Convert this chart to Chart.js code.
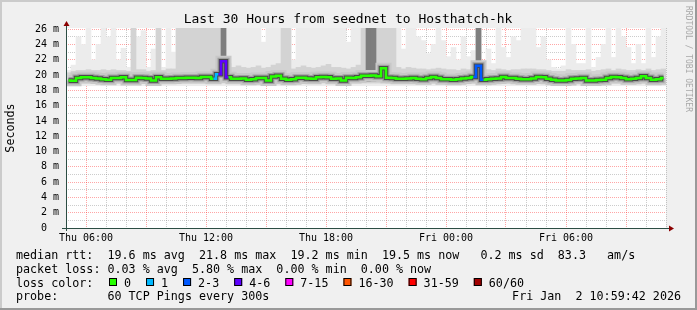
<!DOCTYPE html>
<html>
<head>
<meta charset="utf-8">
<script src="https://cdn.jsdelivr.net/npm/chart.js@4.4.1/dist/chart.umd.min.js"></script>
<style>
  html, body { margin: 0; padding: 0; background: #f0f0f0; }
</style>
</head>
<body>
<canvas id="smokeChart" width="697" height="310"></canvas>
<script>
// 30 hours of pings, one bin per 15 minutes, first bin starts Thu 05:00
// (x values are hours counted from Thu 00:00)
const startHour = 5;
const binHours = 0.25;
const TOP = 26.2; // smoke running off the top of the graph

// median rtt per bin (ms)
const medianRtt = [
  19.3, 19.25, 19.6, 19.7, 19.7, 19.6, 19.55, 19.45, 19.4, 19.6,
  19.6, 19.7, 19.35, 19.35, 19.65, 19.6, 19.55, 19.3, 19.7, 19.5,
  19.5, 19.55, 19.6, 19.6, 19.65, 19.65, 19.6, 19.75, 19.75, 19.5,
  20.1, 21.8, 19.7, 19.5, 19.5, 19.55, 19.4, 19.45, 19.6, 19.6,
  19.3, 19.8, 19.9, 19.5, 19.4, 19.45, 19.65, 19.65, 19.55, 19.5,
  19.7, 19.75, 19.7, 19.5, 19.55, 19.3, 19.65, 19.6, 19.7, 19.9,
  19.9, 19.95, 19.85, 20.9, 19.65, 19.6, 19.5, 19.5, 19.55, 19.6,
  19.5, 19.45, 19.6, 19.75, 19.6, 19.45, 19.45, 19.4, 19.45, 19.55,
  19.6, 19.75, 21.2, 19.4, 19.45, 19.5, 19.55, 19.75, 19.6, 19.6,
  19.5, 19.45, 19.45, 19.55, 19.75, 19.7, 19.5, 19.4, 19.3, 19.3,
  19.35, 19.5, 19.55, 19.6, 19.3, 19.3, 19.35, 19.4, 19.6, 19.75,
  19.7, 19.6, 19.45, 19.5, 19.6, 19.85, 19.6, 19.4, 19.45, 19.6
];

// bins that lost pings, and how many of the 60
const lossBins = [30, 31, 82];
const lossCounts = [1, 4, 2];

// highest ping per bin (outer, light smoke)
const smokeTop = [
  20.6, 21.3, 25.0, 24.0, TOP, 22.0, 24.0, TOP, 25.0, TOP,
  22.0, 23.5, 21.0, TOP, 25.0, 25.8, 21.0, 23.4, TOP, 21.0,
  TOP, 23.0, TOP, TOP, TOP, TOP, TOP, TOP, TOP, TOP,
  TOP, TOP, TOP, TOP, TOP, TOP, TOP, TOP, TOP, 24.3,
  TOP, TOP, TOP, TOP, TOP, 22.0, TOP, TOP, TOP, TOP,
  TOP, TOP, TOP, TOP, TOP, TOP, 24.3, TOP, TOP, TOP,
  TOP, TOP, TOP, TOP, TOP, TOP, TOP, 23.4, TOP, TOP,
  25.0, 24.5, 22.8, 24.0, TOP, 24.5, 22.4, 23.6, 22.0, 25.0,
  22.4, 23.2, TOP, 21.0, 23.4, 21.5, TOP, 23.6, 22.3, 25.0,
  24.5, TOP, TOP, TOP, 23.6, 25.0, 22.0, 21.0, 20.8, 21.2,
  TOP, 24.0, 21.5, 21.5, TOP, 21.0, 22.3, 24.0, TOP, 22.3,
  TOP, 25.0, 23.6, 21.5, 24.0, 21.5, TOP, 22.3, 25.0, TOP
];

// where most of the pings sit (denser, mid grey smoke)
const denseTop = [
  20.3, 20.5, 20.6, 20.6, 20.7, 20.6, 20.6, 20.7, 20.6, 20.7,
  20.6, 20.6, 20.5, TOP, 20.7, 20.7, 20.5, 20.6, TOP, 20.6,
  20.8, 20.8, TOP, TOP, TOP, TOP, TOP, TOP, TOP, TOP,
  TOP, TOP, 21.5, 21.0, 21.2, 21.0, 20.9, 21.0, 21.2, 20.9,
  21.0, 21.3, 21.5, TOP, TOP, 20.8, 21.0, 21.2, 21.0, 20.9,
  21.0, 21.2, 21.4, 21.0, 21.0, 20.9, 20.8, 21.0, 21.3, TOP,
  TOP, TOP, TOP, TOP, TOP, TOP, 21.0, 20.8, 21.0, 20.9,
  20.8, 20.8, 20.7, 20.8, 20.9, 20.8, 20.7, 20.7, 20.6, 20.8,
  20.7, 20.8, TOP, 20.5, 20.7, 20.6, 20.8, 20.7, 20.6, 20.7,
  20.7, 20.8, 20.8, 20.8, 20.7, 20.7, 20.6, 20.5, 20.5, 20.5,
  20.7, 20.6, 20.6, 20.6, 20.7, 20.5, 20.6, 20.7, 20.8, 20.6,
  20.8, 20.7, 20.6, 20.6, 20.7, 20.6, 20.8, 20.6, 20.7, 20.8
];

// bins where nearly all pings were slow (dark columns)
const heavyBins = [31, 60, 61, 82];
const heavyTops = [TOP, TOP, TOP, TOP];

// lower edges of the smoke layers
const smokeFloor = 18.6;
const denseFloor = 18.95;
const heavyFloor = 19.2;

const yTickValues = [0, 1, 2, 3, 4, 5, 6, 7, 8, 9, 10, 11, 12, 13, 14, 15, 16, 17, 18, 19, 20, 21, 22, 23, 24, 25, 26];
const xTickHours = [6, 12, 18, 24, 30];
const xTickLabels = ['Thu 06:00', 'Thu 12:00', 'Thu 18:00', 'Fri 00:00', 'Fri 06:00'];

const lossLabels = ['0', '1', '2-3', '4-6', '7-15', '16-30', '31-59', '60/60'];
const lossFloor = [0, 1, 2, 4, 7, 16, 31, 60];
const lossColors = ['#26ff00', '#00b8ff', '#0059ff', '#5e00ff', '#ff00ff', '#ff5500', '#ff0000', '#a10000'];

const statLines = [
  'median rtt:  19.6 ms avg  21.8 ms max  19.2 ms min  19.5 ms now   0.2 ms sd  83.3   am/s',
  'packet loss: 0.03 % avg  5.80 % max  0.00 % min  0.00 % now'
];
const probeText = 'probe:       60 TCP Pings every 300s';
const stampText = 'Fri Jan  2 10:59:42 2026';
const titleText = 'Last 30 Hours from seednet to Hosthatch-hk';

const MONO = '"DejaVu Sans Mono", monospace';
const MAJOR_GRID = 'rgba(255, 0, 0, 0.35)';
const MINOR_GRID = 'rgba(110, 110, 110, 0.35)';

const binTimes = medianRtt.map((_, i) => startHour + binHours * (i + 0.5));

function lostAt(i) {
  const k = lossBins.indexOf(i);
  return k < 0 ? 0 : lossCounts[k];
}
function lossColor(lost) {
  let c = lossColors[0];
  lossFloor.forEach((f, k) => { if (lost >= f) c = lossColors[k]; });
  return c;
}

const smokeBars = (tops, floor) => tops.map((t, i) => ({ x: binTimes[i], y: [floor, t] }));
const heavyBars = heavyBins.map((b, k) => ({ x: binTimes[b], y: [heavyFloor, heavyTops[k]] }));
const medianPts = medianRtt.map((v, i) => ({ x: binTimes[i], y: v }));

const barBase = { grouped: false, barPercentage: 1, categoryPercentage: 1, borderWidth: 0, clip: 0 };
const lineBase = { type: 'line', data: medianPts, stepped: 'middle', pointRadius: 0, fill: false, clip: 0 };

// rrdtool style frame, axes, arrows and texts
const rrdFrame = {
  id: 'rrdFrame',
  beforeDraw(chart) {
    const { ctx, chartArea: a, width, height } = chart;
    ctx.save();
    ctx.fillStyle = '#f0f0f0';
    ctx.fillRect(0, 0, width, height);
    ctx.fillStyle = '#ffffff';
    ctx.fillRect(a.left, a.top, a.right - a.left, a.bottom - a.top);
    ctx.fillStyle = '#cbcbcb';
    ctx.fillRect(0, 0, width, 2);
    ctx.fillRect(0, 0, 2, height);
    ctx.fillStyle = '#999999';
    ctx.fillRect(0, height - 2, width, 2);
    ctx.fillRect(width - 2, 0, 2, height);
    ctx.restore();
  },
  afterDraw(chart) {
    const { ctx, chartArea: a } = chart;
    ctx.save();
    // axes
    ctx.strokeStyle = '#2c4d43';
    ctx.lineWidth = 1;
    ctx.beginPath();
    ctx.moveTo(a.left + 0.5, a.bottom + 3);
    ctx.lineTo(a.left + 0.5, a.top - 3);
    ctx.moveTo(a.left - 4, a.bottom + 0.5);
    ctx.lineTo(a.right + 4, a.bottom + 0.5);
    ctx.stroke();
    ctx.fillStyle = '#8b0000';
    ctx.beginPath();
    ctx.moveTo(a.left - 2.5, a.top - 2);
    ctx.lineTo(a.left + 3.5, a.top - 2);
    ctx.lineTo(a.left + 0.5, a.top - 7);
    ctx.closePath();
    ctx.fill();
    ctx.beginPath();
    ctx.moveTo(a.right + 3, a.bottom - 2.5);
    ctx.lineTo(a.right + 3, a.bottom + 3.5);
    ctx.lineTo(a.right + 8, a.bottom + 0.5);
    ctx.closePath();
    ctx.fill();

    // title
    ctx.fillStyle = '#000';
    ctx.font = '13px ' + MONO;
    ctx.textAlign = 'center';
    ctx.textBaseline = 'alphabetic';
    ctx.fillText(titleText, 348, 23);

    // unit label
    ctx.save();
    ctx.translate(11, (a.top + a.bottom) / 2);
    ctx.rotate(-Math.PI / 2);
    ctx.font = '11.7px ' + MONO;
    ctx.textBaseline = 'middle';
    ctx.fillText('Seconds', 0, 0);
    ctx.restore();

    // watermark
    ctx.save();
    ctx.translate(688, 59);
    ctx.rotate(Math.PI / 2);
    ctx.font = '8px ' + MONO;
    ctx.fillStyle = '#a8a8a8';
    ctx.textBaseline = 'middle';
    ctx.fillText('RRDTOOL / TOBI OETIKER', 0, 0);
    ctx.restore();

    // legend
    ctx.font = '11.7px ' + MONO;
    ctx.textAlign = 'left';
    ctx.fillStyle = '#000';
    ctx.fillText(statLines[0], 16, 259);
    ctx.fillText(statLines[1], 16, 272.5);
    ctx.fillText('loss color:', 16, 286.5);
    let x = 109;
    lossLabels.forEach((lbl, k) => {
      ctx.fillStyle = lossColors[k];
      ctx.fillRect(x, 278, 8, 8);
      ctx.strokeStyle = '#000';
      ctx.strokeRect(x + 0.5, 278.5, 7, 7);
      ctx.fillStyle = '#000';
      ctx.fillText(lbl, x + 15, 286.5);
      x += 30 + ctx.measureText(lbl).width;
    });
    ctx.fillText(probeText, 16, 300);
    ctx.textAlign = 'right';
    ctx.fillText(stampText, 681, 300);
    ctx.restore();
  }
};

const ctx = document.getElementById('smokeChart').getContext('2d');
new Chart(ctx, {
  type: 'bar',
  data: {
    datasets: [
      { ...barBase, data: smokeBars(smokeTop, smokeFloor), backgroundColor: '#ececec', order: 9 },
      { ...barBase, data: smokeBars(denseTop, denseFloor), backgroundColor: '#d3d3d3', order: 8 },
      { ...barBase, data: heavyBars, backgroundColor: '#7e7e7e', order: 7 },
      { ...lineBase, borderColor: '#c8c8c8', borderWidth: 11, order: 6 },
      { ...lineBase, borderColor: '#a0a0a0', borderWidth: 7, order: 5 },
      { ...lineBase, borderColor: '#4a4a4a', borderWidth: 4.5, order: 4 },
      {
        ...lineBase, borderColor: lossColors[0], borderWidth: 2.5, order: 1,
        segment: {
          borderColor: s => {
            const hi = medianRtt[s.p1DataIndex] > medianRtt[s.p0DataIndex] ? s.p1DataIndex : s.p0DataIndex;
            return lossColor(lostAt(hi));
          }
        }
      }
    ]
  },
  options: {
    responsive: false,
    animation: false,
    devicePixelRatio: 1,
    layout: { padding: { top: 28, right: 31, bottom: 68, left: 0 } },
    plugins: {
      legend: { display: false },
      tooltip: { enabled: false }
    },
    scales: {
      x: {
        type: 'linear', min: 5, max: 35, offset: false, z: 1,
        grid: {
          offset: false, drawTicks: false, lineWidth: 1,
          color: c => (c.tick && c.tick.value % 3 === 0 ? MAJOR_GRID : MINOR_GRID)
        },
        border: { display: false, dash: [1, 1] },
        ticks: {
          stepSize: 1, autoSkip: false, maxRotation: 0, padding: 4, color: '#000',
          font: { family: MONO, size: 10 },
          callback: v => {
            const k = xTickHours.indexOf(v);
            return k < 0 ? '' : xTickLabels[k];
          }
        },
        afterFit: s => { s.height = 14; }
      },
      y: {
        type: 'linear', min: 0, max: 26.15, z: 1,
        grid: {
          drawTicks: false, lineWidth: 1,
          color: c => (c.tick && c.tick.value % 2 === 0 ? MAJOR_GRID : MINOR_GRID)
        },
        border: { display: false, dash: [1, 1] },
        ticks: {
          autoSkip: false, padding: 7, color: '#000',
          font: { family: MONO, size: 10 },
          callback: v => (v === 0 ? '0  ' : v % 2 === 0 ? v + ' m' : '')
        },
        afterBuildTicks: s => { s.ticks = yTickValues.map(value => ({ value })); },
        afterFit: s => { s.width = 66; }
      }
    }
  },
  plugins: [rrdFrame]
});
</script>
</body>
</html>
